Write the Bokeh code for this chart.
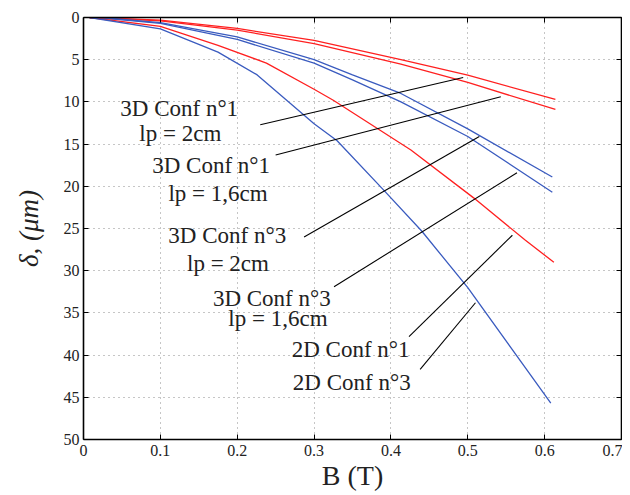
from bokeh.plotting import figure
from bokeh.models import Range1d, FixedTicker, LinearAxis, ColumnDataSource
from bokeh.embed import file_html
from bokeh.resources import INLINE
from bokeh.core.properties import value

# ---- data ----
x_ticks = [0, 0.1, 0.2, 0.3, 0.4, 0.5, 0.6, 0.7]
x_tick_labels = ["0", "0.1", "0.2", "0.3", "0.4", "0.5", "0.6", "0.7"]
y_ticks = [0, 5, 10, 15, 20, 25, 30, 35, 40, 45, 50]
y_tick_labels = ["0", "5", "10", "15", "20", "25", "30", "35", "40", "45", "50"]

# 3D Conf n°1 (red pair)
b_3d1_a = [0.008, 0.04, 0.1, 0.2, 0.3, 0.413, 0.5, 0.614]
d_3d1_a = [0.0, 0.1, 0.3, 1.3, 2.7, 4.98, 6.84, 9.7]
b_3d1_b = [0.008, 0.04, 0.1, 0.2, 0.3, 0.413, 0.5, 0.614]
d_3d1_b = [0.0, 0.12, 0.4, 1.5, 3.1, 5.53, 7.7, 10.9]
# 3D Conf n°3 (blue pair)
b_3d3_a = [0.008, 0.04, 0.1, 0.2, 0.3, 0.35, 0.413, 0.5, 0.61]
d_3d3_a = [0.0, 0.15, 0.6, 2.3, 5.0, 6.8, 9.0, 13.2, 18.9]
b_3d3_b = [0.008, 0.04, 0.1, 0.2, 0.3, 0.35, 0.413, 0.5, 0.61]
d_3d3_b = [0.0, 0.18, 0.7, 2.6, 5.4, 7.4, 10.0, 14.1, 20.7]
# 2D Conf n°1 (red)
b_2d1 = [0.008, 0.1, 0.175, 0.238, 0.3, 0.325, 0.426, 0.508, 0.575, 0.612]
d_2d1 = [0.0, 1.05, 3.3, 5.4, 8.5, 9.8, 15.7, 21.4, 26.4, 29.0]
# 2D Conf n°3 (blue)
b_2d3 = [0.008, 0.1, 0.175, 0.226, 0.3, 0.33, 0.39, 0.44, 0.5, 0.608]
d_2d3 = [0.0, 1.35, 4.1, 6.8, 12.6, 14.6, 20.4, 25.3, 32.0, 45.7]

# annotation texts and their leader lines
label_texts = ["3D Conf n°1", "lp = 2cm", "3D Conf n°1", "lp = 1,6cm",
               "3D Conf n°3", "lp = 2cm", "3D Conf n°3", "lp = 1,6cm",
               "2D Conf n°1", "2D Conf n°3"]
label_b = [0.1245, 0.126, 0.166, 0.175, 0.187, 0.188, 0.245, 0.253, 0.3475, 0.349]
label_d = [10.75, 13.7, 17.5, 20.8, 25.8, 29.1, 33.3, 35.7, 39.3, 43.3]

leader_b0 = [0.230, 0.250, 0.287, 0.326, 0.4235, 0.438]
leader_d0 = [12.7, 16.3, 26.0, 31.9, 37.8, 41.7]
leader_b1 = [0.494, 0.543, 0.515, 0.564, 0.558, 0.510]
leader_d1 = [7.1, 9.4, 14.1, 18.4, 25.8, 33.8]

RED = "#ff2020"
BLUE = "#3a5bbf"
TXT = "#222222"
FONT = "Liberation Serif"

p = figure(width=622, height=495,
           x_range=Range1d(0, 0.7), y_range=Range1d(50, 0),
           output_backend="svg", toolbar_location=None,
           min_border_left=83, min_border_right=1,
           min_border_top=17, min_border_bottom=56,
           background_fill_color="white", border_fill_color="white")
p.outline_line_color = None

xt = FixedTicker(ticks=x_ticks)
yt = FixedTicker(ticks=y_ticks)

def style_axis(ax, ticker, labels, show_labels):
    ax.ticker = ticker
    ax.axis_line_color = "black"
    ax.axis_line_width = 1.6
    ax.major_tick_in = 5
    ax.major_tick_out = 0
    ax.major_tick_line_color = "black"
    ax.minor_tick_line_color = None
    ax.major_label_text_font = FONT
    ax.major_label_text_color = TXT
    if show_labels:
        ax.major_label_overrides = {t: l for t, l in zip(ticker.ticks, labels)}
        ax.major_label_text_font_size = "16px"
    else:
        ax.major_label_overrides = {t: "" for t in ticker.ticks}
        ax.major_label_text_font_size = "1px"
        ax.major_label_standoff = 0

xa = p.xaxis[0]
ya = p.yaxis[0]
style_axis(xa, xt, x_tick_labels, True)
style_axis(ya, yt, y_tick_labels, True)
xa.major_label_standoff = 5
ya.major_label_standoff = 4

xa.axis_label = "B (T)"
xa.axis_label_text_font = FONT
xa.axis_label_text_font_size = "28px"
xa.axis_label_text_font_style = "normal"
xa.axis_label_text_color = TXT
xa.axis_label_standoff = 1

ya.axis_label = "δ, (μm)"
ya.axis_label_text_font = FONT
ya.axis_label_text_font_size = "27px"
ya.axis_label_text_font_style = "italic"
ya.axis_label_text_color = TXT
ya.axis_label_standoff = 17

top = LinearAxis()
right = LinearAxis()
style_axis(top, xt, x_tick_labels, False)
style_axis(right, yt, y_tick_labels, False)
p.add_layout(top, "above")
p.add_layout(right, "right")

for g in (p.xgrid[0], p.ygrid[0]):
    g.grid_line_color = "#8c8c8c"
    g.grid_line_dash = "1 4"
    g.grid_line_width = 1
p.xgrid[0].ticker = xt
p.ygrid[0].ticker = yt

lw = 1.3
p.line(b_3d1_a, d_3d1_a, line_color=RED, line_width=lw)
p.line(b_3d1_b, d_3d1_b, line_color=RED, line_width=lw)
p.line(b_3d3_a, d_3d3_a, line_color=BLUE, line_width=lw)
p.line(b_3d3_b, d_3d3_b, line_color=BLUE, line_width=lw)
p.line(b_2d1, d_2d1, line_color=RED, line_width=lw)
p.line(b_2d3, d_2d3, line_color=BLUE, line_width=lw)

p.segment(x0=leader_b0, y0=leader_d0, x1=leader_b1, y1=leader_d1,
          line_color="black", line_width=1.1)

src = ColumnDataSource(dict(x=label_b, y=label_d, t=label_texts))
p.text(x="x", y="y", text="t", source=src, text_align="center",
       text_baseline="middle", text_font=value(FONT),
       text_font_size="23px", text_color=TXT)

open("out.html", "w").write(file_html(p, INLINE))
